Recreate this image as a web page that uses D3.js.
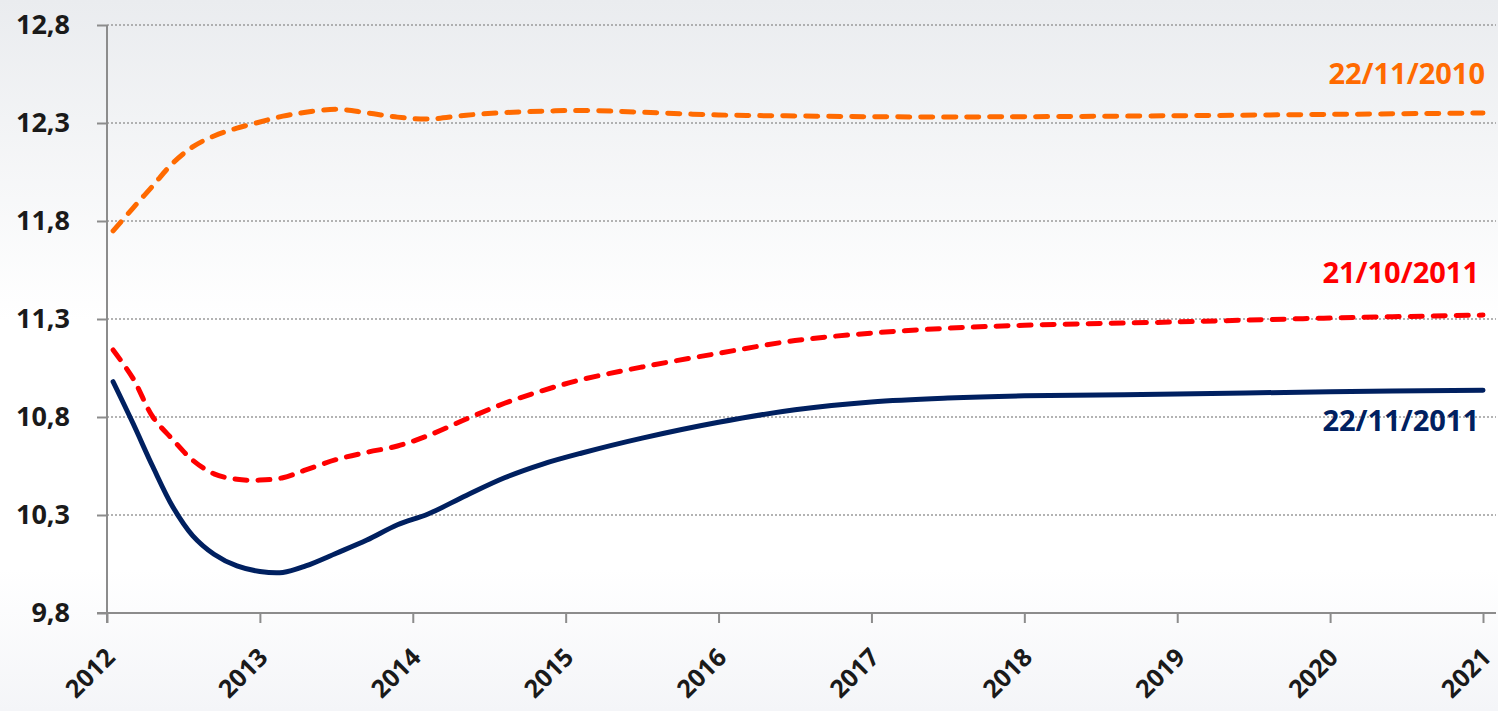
<!DOCTYPE html>
<html>
<head>
<meta charset="utf-8">
<script src="https://cdn.jsdelivr.net/npm/d3@7/dist/d3.min.js"></script>
<style>
  html, body { margin: 0; padding: 0; }
  body { width: 1498px; height: 711px; overflow: hidden; font-family: "Open Sans", sans-serif; }
</style>
</head>
<body>
<div id="chart"></div>
<script>
// sample dates (decimal years) shared by all three series
var dates = [2012.04, 2012.17, 2012.3, 2012.43, 2012.56, 2012.7, 2012.85, 2013.0, 2013.15, 2013.3,
             2013.5, 2013.7, 2013.9, 2014.1, 2014.35, 2014.6, 2014.85, 2015.1, 2015.5, 2016,
             2016.5, 2017, 2017.5, 2018, 2019, 2020, 2021];

var nov2010 = [11.75, 11.866, 11.98, 12.095, 12.178, 12.234, 12.274, 12.305, 12.335, 12.355,
               12.37, 12.352, 12.33, 12.32, 12.34, 12.353, 12.36, 12.364, 12.355, 12.341,
               12.336, 12.332, 12.331, 12.332, 12.337, 12.344, 12.351];

var oct2011 = [11.142, 10.997, 10.8, 10.685, 10.58, 10.51, 10.482, 10.478, 10.49, 10.53,
               10.583, 10.62, 10.652, 10.705, 10.79, 10.87, 10.935, 10.99, 11.055, 11.125,
               11.19, 11.228, 11.253, 11.268, 11.285, 11.305, 11.32];

var nov2011 = [10.98, 10.768, 10.546, 10.342, 10.195, 10.1, 10.04, 10.012, 10.007, 10.04,
               10.105, 10.172, 10.25, 10.305, 10.4, 10.49, 10.56, 10.615, 10.692, 10.773,
               10.837, 10.877, 10.897, 10.908, 10.917, 10.929, 10.937];

var yearTicks = [2012, 2013, 2014, 2015, 2016, 2017, 2018, 2019, 2020, 2021];
var valueTicks = [9.8, 10.3, 10.8, 11.3, 11.8, 12.3, 12.8];

var seriesNames = ["22/11/2010", "21/10/2011", "22/11/2011"];

var width = 1498, height = 711;
var svg = d3.select("#chart").append("svg")
    .attr("width", width)
    .attr("height", height);

// background gradient
var defs = svg.append("defs");
var grad = defs.append("linearGradient").attr("id", "bg")
    .attr("x1", 0).attr("y1", 0).attr("x2", 0).attr("y2", 1);
grad.append("stop").attr("offset", "0%").attr("stop-color", "#eaecef");
grad.append("stop").attr("offset", "45%").attr("stop-color", "#ffffff");
grad.append("stop").attr("offset", "80%").attr("stop-color", "#ffffff");
grad.append("stop").attr("offset", "100%").attr("stop-color", "#f4f5f8");
svg.append("rect").attr("width", width).attr("height", height).attr("fill", "url(#bg)");

var x = d3.scaleLinear().domain([2012, 2021]).range([107, 1483]);
var y = d3.scaleLinear().domain([9.8, 12.8]).range([613, 25]);

var fmt = function(d) { return d3.format(".1f")(d).replace(".", ","); };

// gridlines
svg.append("g")
    .selectAll("line")
    .data(valueTicks.filter(function(d) { return d > 9.8; }))
    .enter().append("line")
    .attr("x1", 107).attr("x2", 1496)
    .attr("y1", function(d) { return y(d); })
    .attr("y2", function(d) { return y(d); })
    .attr("stroke", "#9a9a9a")
    .attr("stroke-width", 1.5)
    .attr("stroke-dasharray", "2,2");

// y axis
var yAxis = svg.append("g")
    .attr("transform", "translate(107,0)")
    .call(d3.axisLeft(y).tickValues(valueTicks).tickFormat(fmt).tickSize(10).tickPadding(27));
yAxis.select(".domain").attr("stroke", "#8c8c8c").attr("stroke-width", 2)
    .attr("d", "M0,25V623");
yAxis.selectAll(".tick line").attr("stroke", "#8c8c8c").attr("stroke-width", 2);
yAxis.selectAll("text")
    .attr("fill", "#1a1a1a")
    .style("font-family", "'Open Sans', sans-serif")
    .style("font-weight", 700)
    .style("font-size", "27px");

// x axis
var xAxis = svg.append("g")
    .attr("transform", "translate(0,613)")
    .call(d3.axisBottom(x).tickValues(yearTicks).tickFormat(d3.format("d")).tickSize(10));
xAxis.select(".domain").attr("stroke", "#8c8c8c").attr("stroke-width", 2)
    .attr("d", "M97,0H1496");
xAxis.selectAll(".tick line").attr("stroke", "#8c8c8c").attr("stroke-width", 2);
xAxis.selectAll("text")
    .attr("fill", "#1a1a1a")
    .style("font-family", "'Open Sans', sans-serif")
    .style("font-weight", 700)
    .style("font-size", "25px")
    .attr("text-anchor", "end")
    .attr("dy", null)
    .attr("y", 0)
    .attr("transform", "translate(9,46) rotate(-45)");

// lines
var line = d3.line()
    .x(function(d, i) { return x(dates[i]); })
    .y(function(d) { return y(d); })
    .curve(d3.curveCatmullRom.alpha(0.5));

var series = [
  { name: seriesNames[0], values: nov2010, color: "#ff6a00", dash: "12,11" },
  { name: seriesNames[1], values: oct2011, color: "#ff0000", dash: "12,11" },
  { name: seriesNames[2], values: nov2011, color: "#002060", dash: null }
];

svg.append("g").selectAll("path")
    .data(series)
    .enter().append("path")
    .attr("d", function(d) { return line(d.values); })
    .attr("fill", "none")
    .attr("stroke", function(d) { return d.color; })
    .attr("stroke-width", 5)
    .attr("stroke-linecap", "round")
    .attr("stroke-dasharray", function(d) { return d.dash; });

// series labels
var labelPos = [[1485, 84], [1479, 283], [1479, 431]];
svg.append("g").selectAll("text")
    .data(series)
    .enter().append("text")
    .attr("x", function(d, i) { return labelPos[i][0]; })
    .attr("y", function(d, i) { return labelPos[i][1]; })
    .attr("text-anchor", "end")
    .attr("fill", function(d) { return d.color; })
    .style("font-family", "'Open Sans', sans-serif")
    .style("font-weight", 700)
    .style("font-size", "29px")
    .text(function(d) { return d.name; });
</script>
</body>
</html>
